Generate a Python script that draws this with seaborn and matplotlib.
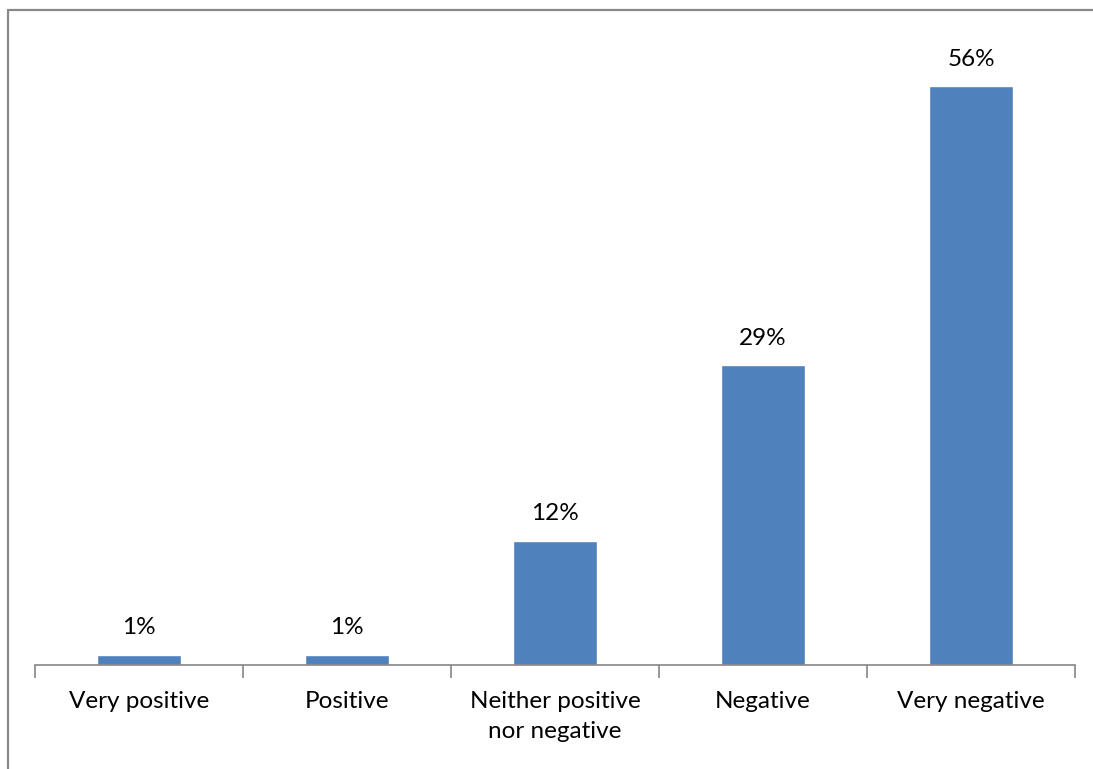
import matplotlib
matplotlib.use("Agg")
import matplotlib.pyplot as plt
from matplotlib.lines import Line2D
import seaborn as sns
import pandas as pd

# Survey responses: share of respondents per answer
categories = ["Very positive", "Positive", "Neither positive\nnor negative",
              "Negative", "Very negative"]
shares = [1, 1, 12, 29, 56]
share_labels = ["1%", "1%", "12%", "29%", "56%"]

df = pd.DataFrame({"answer": categories, "share": shares})

sns.set_theme(style="white")
plt.rcParams["font.family"] = ["Lato", "DejaVu Sans"]

fig = plt.figure(figsize=(10.93, 7.69), dpi=100)
ax = fig.add_axes([35 / 1093, 1 - 665 / 769, 1040 / 1093, 620 / 769])

sns.barplot(data=df, x="answer", y="share", color="#4F81BD", saturation=1,
            width=0.4, ax=ax)

ax.set_ylim(0, 60)
ax.set_xlim(-0.5, len(categories) - 0.5)
ax.set_xlabel("")
ax.set_ylabel("")
ax.set_yticks([])

# category boundary ticks, labels centred under each bar
ax.set_xticks([i - 0.5 for i in range(len(categories) + 1)], minor=True)
ax.tick_params(axis="x", which="minor", length=9, width=1.2, color="#868686",
               direction="out", bottom=True)
ax.tick_params(axis="x", which="major", length=0, pad=19, labelsize=17.5,
               labelcolor="#000000")
ax.set_xticks(range(len(categories)))
ax.set_xticklabels(categories, linespacing=1.5)

for side in ["top", "right", "left"]:
    ax.spines[side].set_visible(False)
ax.spines["bottom"].set_color("#868686")
ax.spines["bottom"].set_linewidth(1.2)

ax.bar_label(ax.containers[0], labels=share_labels, padding=12,
             fontsize=17.5, color="#000000")

# chart frame
frame_kw = dict(color="#898989", linewidth=1.6, transform=fig.transFigure)
fig.add_artist(Line2D([7.5 / 1093, 1.0], [1 - 9.5 / 769, 1 - 9.5 / 769], **frame_kw))
fig.add_artist(Line2D([7.5 / 1093, 7.5 / 1093], [0.0, 1 - 9.5 / 769], **frame_kw))

fig.savefig("out.png", dpi=100, facecolor="white")
